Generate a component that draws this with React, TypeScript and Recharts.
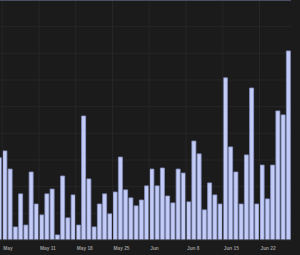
import { BarChart, Bar, XAxis, YAxis, CartesianGrid, ReferenceLine } from 'recharts';

const days = [
  'May 3', 'May 4', 'May 5', 'May 6', 'May 7', 'May 8', 'May 9', 'May 10',
  'May 11', 'May 12', 'May 13', 'May 14', 'May 15', 'May 16', 'May 17',
  'May 18', 'May 19', 'May 20', 'May 21', 'May 22', 'May 23', 'May 24',
  'May 25', 'May 26', 'May 27', 'May 28', 'May 29', 'May 30', 'May 31',
  'Jun 1', 'Jun 2', 'Jun 3', 'Jun 4', 'Jun 5', 'Jun 6', 'Jun 7',
  'Jun 8', 'Jun 9', 'Jun 10', 'Jun 11', 'Jun 12', 'Jun 13', 'Jun 14',
  'Jun 15', 'Jun 16', 'Jun 17', 'Jun 18', 'Jun 19', 'Jun 20', 'Jun 21',
  'Jun 22', 'Jun 23', 'Jun 24', 'Jun 25', 'Jun 26', 'Jun 27',
];

const counts = [
  30.8, 33.4, 26.6, 4.9, 17.3, 5.6, 25.5, 13.5, 9.4, 17.3, 19.1, 1.9, 24,
  8.3, 16.9, 5.6, 46.5, 22.9, 4.9, 13.5, 17.3, 9.8, 18, 31.1, 18.8, 15.8,
  12.8, 15, 20.3, 26.6, 20.3, 27, 16.5, 13.9, 26.6, 25.1, 14.3, 37.1, 32.3,
  11.3, 21.4, 16.9, 13.5, 60.8, 34.9, 25.5, 13.5, 31.9, 57, 13.5, 28.1,
  15.4, 28.1, 48.4, 46.9, 70.9,
];

const tickDays = ['May 4', 'May 11', 'May 18', 'May 25', 'Jun 1', 'Jun 8', 'Jun 15', 'Jun 22'];
const tickLabels = ['May', 'May 11', 'May 18', 'May 25', 'Jun', 'Jun 8', 'Jun 15', 'Jun 22'];
const gridValues = [10, 20, 30, 40, 50, 60, 70, 80];

const W = 300;
const H = 255;
const MARGIN = { top: 0, right: 9, left: -3, bottom: 0 };
const BAND = (W - MARGIN.left - MARGIN.right) / days.length;

const data = days.map((day, i) => ({ day, count: counts[i] }));

function DateTick({ x, y, payload }: any) {
  const i = tickDays.indexOf(payload.value);
  if (i < 0) return null;
  return (
    <text
      x={x - BAND / 2 + 1}
      y={y + 9.5}
      textAnchor='start'
      fill='#979797'
      fontSize={4.8}
      fontWeight={700}
      fontFamily='Liberation Sans, Arial, sans-serif'
    >
      {tickLabels[i]}
    </text>
  );
}

export default function App() {
  return (
    <div
      style={{
        position: 'fixed',
        left: 0,
        top: 0,
        width: W,
        height: H,
        background: '#1b1b1b',
      }}
    >
      <BarChart width={W} height={H} data={data} margin={MARGIN} barCategoryGap='12%'>
        <CartesianGrid vertical={false} stroke='#262626' horizontalValues={gridValues} />
        {tickDays.map((d) => (
          <ReferenceLine key={d} x={d} position='start' stroke='#262626' />
        ))}
        <ReferenceLine y={90} stroke='#4a5062' strokeWidth={2} />
        <XAxis
          dataKey='day'
          height={15}
          interval={0}
          tickLine={false}
          tickSize={0}
          tickMargin={0}
          axisLine={{ stroke: '#2c2c2c' }}
          tick={<DateTick />}
        />
        <YAxis hide domain={[0, 90]} allowDataOverflow />
        <Bar
          dataKey='count'
          fill='#c2ccf6'
          stroke='#8b96c6'
          strokeWidth={0.8}
          isAnimationActive={false}
        />
      </BarChart>
    </div>
  );
}
